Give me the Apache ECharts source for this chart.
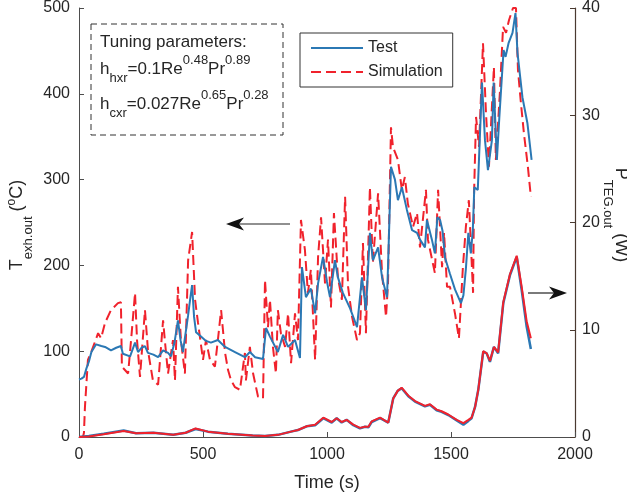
<!DOCTYPE html>
<html>
<head>
<meta charset="utf-8">
<script src="https://cdn.jsdelivr.net/npm/echarts@6/dist/echarts.min.js"></script>
<style>
html,body{margin:0;padding:0;background:#fff;}
#chart{width:627px;height:498px;}
</style>
</head>
<body>
<div id="chart"></div>
<script>
// ---- data ----
var xTicks = [0, 500, 1000, 1500, 2000];
var leftTicks = [0, 100, 200, 300, 400, 500];
var rightTicks = [0, 10, 20, 30, 40];

// Exhaust outlet temperature, test (degC)
var testTempTime = [0,10,20,30,40,50,69,90,105,129,150,169,177,206,226,238,252,266,278,300,319,339,359,371,385,399,410,419,440,448,456,464,472,492,512,532,560,589,629,669,689,710,742,754,770,802,823,843,871,891,899,915,935,952,964,984,1000,1012,1032,1044,1064,1093,1121,1141,1157,1173,1185,1206,1222,1242,1246,1258,1274,1286,1302,1322,1343,1363,1375,1395,1403,1423,1435,1445,1456,1466,1476,1496,1516,1540,1550,1560,1570,1580,1588,1594,1608,1625,1637,1649,1665,1672,1685,1695,1712,1720,1732,1748,1760,1768,1788,1808,1825];
var testTemp = [67,68,70,80,88,99,108,106,105,101,104,106,97,94,110,99,104,106,98,96,93,101,98,94,110,136,112,99,142,160,177,140,122,117,112,110,113,105,99,93,99,93,91,127,117,99,119,105,113,92,198,163,173,144,179,210,181,163,206,186,168,150,128,186,148,238,206,221,186,163,198,315,300,276,291,265,241,238,230,221,253,230,214,256,253,240,209,190,172,156,165,196,238,214,241,291,288,413,346,311,346,413,323,373,451,443,459,471,494,448,396,366,323];

// Exhaust outlet temperature, simulation (degC)
var simTempTime = [0,16,20,24,36,48,77,89,105,129,157,169,173,198,210,226,234,246,266,278,298,319,339,347,359,379,387,399,411,427,440,456,468,480,500,512,528,548,560,573,589,601,613,629,649,669,673,689,702,722,742,750,762,770,782,794,802,814,831,843,855,871,883,895,911,923,935,952,964,976,992,1004,1016,1028,1044,1060,1073,1085,1101,1121,1133,1145,1157,1173,1185,1206,1222,1238,1246,1258,1266,1286,1302,1314,1326,1347,1363,1375,1399,1407,1435,1448,1464,1472,1484,1496,1516,1532,1548,1560,1572,1589,1593,1601,1613,1629,1641,1653,1673,1681,1697,1710,1722,1734,1750,1762,1770,1782,1794,1810,1822];
var simTemp = [0,0,5,35,90,98,121,115,133,148,156,157,82,74,113,168,113,70,148,101,66,61,136,110,74,113,66,175,113,74,206,239,160,133,90,113,90,82,113,148,98,78,66,58,55,98,66,105,74,47,45,183,128,160,105,74,148,121,105,144,86,144,113,253,218,168,195,90,210,256,179,230,151,261,186,160,280,175,140,113,121,226,121,291,203,284,191,140,179,361,338,323,288,303,272,245,261,221,288,230,191,288,198,238,175,175,144,115,198,245,276,168,284,373,338,459,378,315,431,323,401,478,471,486,500,500,428,389,354,315,280];

// TEG output power (W)
var powTime = [0,40,100,180,230,300,380,430,470,520,600,700,750,802,855,883,918,952,985,1019,1039,1059,1079,1106,1133,1153,1167,1180,1214,1247,1267,1285,1301,1328,1355,1395,1415,1442,1462,1489,1523,1550,1570,1583,1597,1610,1630,1644,1657,1673,1690,1711,1738,1765,1785,1805,1822];
var testPow = [0,0.1,0.3,0.6,0.35,0.4,0.2,0.4,0.75,0.5,0.3,0.15,0.1,0.2,0.5,0.65,1.0,1.1,1.75,1.35,1.75,1.35,1.6,1.1,0.8,0.95,0.9,1.4,1.75,1.35,3.6,4.3,4.55,3.8,3.3,2.85,3.0,2.5,2.35,2.05,1.55,1.15,1.5,1.75,2.8,4.4,7.95,7.8,7.0,8.4,7.8,12.5,15.1,16.8,13.7,10.3,8.2];
var simPow = [0,0.05,0.25,0.55,0.35,0.4,0.2,0.4,0.8,0.5,0.3,0.15,0.1,0.2,0.5,0.65,1.0,1.15,1.8,1.4,1.75,1.4,1.6,1.15,0.85,0.95,0.95,1.45,1.8,1.35,3.6,4.3,4.6,3.85,3.35,2.9,3.05,2.55,2.4,2.1,1.6,1.3,1.6,1.8,2.8,4.4,8.0,7.8,7.1,8.4,7.9,12.6,15.2,16.9,14.0,10.8,9.2];

function pairs(t, v) { return t.map(function (x, i) { return [x, v[i]]; }); }

var FONT = 'Liberation Sans';
var TXT = '#262626';
var BLUE = '#2b78b4';
var RED = '#f0222c';

// lay out text fragments (sub/superscripts) as separate text elements
var measureCtx = document.createElement('canvas').getContext('2d');
function fontStr(size) { return size + 'px "' + FONT + '"'; }
function textRow(frags, centered) {
  var x = 0, kids = [];
  frags.forEach(function (f) {
    var txt = f[0], size = f[1], dy = f[2];
    measureCtx.font = fontStr(size);
    kids.push({ type: 'text', x: x, y: dy, z: 11,
      style: { text: txt, font: fontStr(size), fill: TXT, align: 'left', verticalAlign: 'middle' } });
    x += measureCtx.measureText(txt).width;
  });
  if (centered) kids.forEach(function (k) { k.x -= x / 2; });
  return kids;
}

var chart = echarts.init(document.getElementById('chart'));

chart.setOption({
  animation: false,
  backgroundColor: '#fff',
  grid: { left: 79, right: 52, top: 8, bottom: 61 },
  legend: {
    data: ['Test', 'Simulation'],
    orient: 'vertical',
    left: 300, top: 33,
    itemWidth: 52, itemHeight: 14, itemGap: 8,
    padding: [7, 10, 7, 10],
    borderColor: '#333', borderWidth: 1,
    backgroundColor: '#fff',
    itemStyle: { opacity: 0 },
    textStyle: { fontSize: 16, fontFamily: FONT, color: TXT },
    selectedMode: false
  },
  xAxis: {
    type: 'value', min: 0, max: 2000, interval: 500,
    name: 'Time (s)', nameLocation: 'middle', nameGap: 37,
    nameTextStyle: { fontSize: 18, fontFamily: FONT, color: TXT },
    axisLine: { lineStyle: { color: '#4d4d4d', width: 1 } },
    axisTick: { inside: true, length: 5, lineStyle: { color: '#4d4d4d' } },
    axisLabel: { fontSize: 16, fontFamily: FONT, color: TXT, margin: 10,
      formatter: function (v) { return String(v); } },
    splitLine: { show: false }
  },
  yAxis: [{
    type: 'value', min: 0, max: 500, interval: 100, position: 'left',
    axisLine: { show: true, lineStyle: { color: '#4d4d4d', width: 1 } },
    axisTick: { show: true, inside: true, length: 5, lineStyle: { color: '#4d4d4d' } },
    axisLabel: { fontSize: 16, fontFamily: FONT, color: TXT, margin: 9,
      formatter: function (v) { return String(v); } },
    splitLine: { show: false }
  }, {
    type: 'value', min: 0, max: 40, interval: 10, position: 'right',
    axisLine: { show: true, lineStyle: { color: '#4a3a30', width: 1.2 } },
    axisTick: { show: true, inside: true, length: 5, lineStyle: { color: '#4a3a30' } },
    axisLabel: { fontSize: 16, fontFamily: FONT, color: TXT, margin: 7 },
    splitLine: { show: false }
  }],
  series: [{
    name: 'Test', type: 'line', yAxisIndex: 0, symbol: 'none',
    data: pairs(testTempTime, testTemp),
    lineStyle: { color: BLUE, width: 2 }, itemStyle: { color: BLUE }, z: 3
  }, {
    name: 'Simulation', type: 'line', yAxisIndex: 0, symbol: 'none',
    data: pairs(simTempTime, simTemp),
    lineStyle: { color: RED, width: 2, type: [10, 5] }, itemStyle: { color: RED }, z: 2
  }, {
    name: 'Test P', type: 'line', yAxisIndex: 1, symbol: 'none',
    data: pairs(powTime, testPow),
    lineStyle: { color: BLUE, width: 2.5 }, itemStyle: { color: BLUE }, z: 3
  }, {
    name: 'Simulation P', type: 'line', yAxisIndex: 1, symbol: 'none',
    data: pairs(powTime, simPow),
    lineStyle: { color: RED, width: 2 }, itemStyle: { color: RED }, z: 4
  }],
  graphic: [
    // left axis title
    { type: 'group', x: 17, y: 225, rotation: Math.PI / 2,
      children: textRow([['T', 18, 0], ['exh.out', 13, 11], [' (', 18, 0], ['o', 12, -5], ['C)', 18, 0]], true) },
    // right axis title
    { type: 'group', x: 621, y: 215, rotation: -Math.PI / 2,
      children: textRow([['P', 18, 0], ['TEG.out', 13, 13], [' (W)', 18, 0]], true) },
    // tuning parameter box
    { type: 'rect', shape: { x: 91, y: 24, width: 192, height: 111 },
      style: { fill: '#fff', stroke: '#333', lineWidth: 1, lineDash: [6, 4] }, z: 10 },
    { type: 'group', x: 100, y: 42, children: textRow([['Tuning parameters:', 17, 0]], false) },
    { type: 'group', x: 100, y: 69,
      children: textRow([['h', 17, 0], ['hxr', 13, 9], ['=0.1Re', 17, 0], ['0.48', 13, -8.5], ['Pr', 17, 0], ['0.89', 13, -8.5]], false) },
    { type: 'group', x: 100, y: 104,
      children: textRow([['h', 17, 0], ['cxr', 13, 9], ['=0.027Re', 17, 0], ['0.65', 13, -8.5], ['Pr', 17, 0], ['0.28', 13, -8.5]], false) },
    // arrow pointing to left axis
    { type: 'line', shape: { x1: 290, y1: 224, x2: 236, y2: 224 }, style: { stroke: '#222', lineWidth: 1.2 }, z: 10 },
    { type: 'polygon', shape: { points: [[226, 224], [244, 217.5], [239, 224], [244, 230.5]] }, style: { fill: '#111' }, z: 10 },
    // arrow pointing to right axis
    { type: 'line', shape: { x1: 528, y1: 293, x2: 558, y2: 293 }, style: { stroke: '#222', lineWidth: 1.2 }, z: 10 },
    { type: 'polygon', shape: { points: [[567, 293], [549, 286.5], [554, 293], [549, 299.5]] }, style: { fill: '#111' }, z: 10 }
  ]
});
</script>
</body>
</html>
